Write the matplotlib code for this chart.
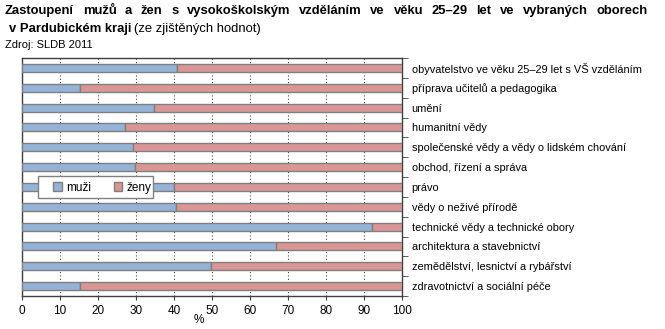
"""
Share of men and women with university education aged 25-29 by field,
Pardubice region (SLDB 2011). Horizontal 100 % stacked bars.
"""
import matplotlib
matplotlib.use("Agg")
import matplotlib.pyplot as plt
from matplotlib.patches import Rectangle
import numpy as np

# categories from top to bottom
categories = [
    "obyvatelstvo ve věku 25–29 let s VŠ vzděláním",
    "příprava učitelů a pedagogika",
    "umění",
    "humanitní vědy",
    "společenské vědy a vědy o lidském chování",
    "obchod, řízení a správa",
    "právo",
    "vědy o neživé přírodě",
    "technické vědy a technické obory",
    "architektura a stavebnictví",
    "zemědělství, lesnictví a rybářství",
    "zdravotnictví a sociální péče",
]
muzi = [40.9, 15.2, 34.7, 27.1, 29.2, 29.7, 40.0, 40.5, 92.0, 66.9, 49.8, 15.3]
zeny = [100 - m for m in muzi]

BLUE = "#95b3d7"
PINK = "#d99694"
EDGE = "#7f7f7f"

plt.rcParams["font.family"] = ["Liberation Sans", "DejaVu Sans"]

fig = plt.figure(figsize=(6.65, 3.29), dpi=100)
ax = fig.add_axes([0.033, 0.1003, 0.5715, 0.7234])

y = np.arange(len(categories))
h = 0.4
ax.barh(y, muzi, height=h, color=BLUE, edgecolor=EDGE, linewidth=1.0, label="muži", zorder=3)
ax.barh(y, zeny, left=muzi, height=h, color=PINK, edgecolor=EDGE, linewidth=1.0, label="ženy", zorder=3)

ax.set_xlim(0, 100)
ax.set_ylim(len(categories) - 0.5, -0.5)
ax.set_xticks(np.arange(0, 101, 10))
ax.tick_params(axis="x", labelsize=8.5, length=3, color="#404040")
ax.xaxis.grid(True, linestyle=(0, (1, 2)), color="#404040", linewidth=0.8, zorder=0)

# category labels on right, ticks at category boundaries
ax.yaxis.tick_right()
ax.set_yticks(y)
ax.set_yticklabels(categories, fontsize=7.9)
ax.tick_params(axis="y", length=0, pad=7)
ax.set_yticks(np.arange(-0.5, len(categories), 1), minor=True)
ax.tick_params(axis="y", which="minor", length=4, color="#404040", right=True, left=False)

for s in ax.spines.values():
    s.set_color("#404040")
    s.set_linewidth(1.0)

ax.text(46.5, -0.075, "%", transform=ax.get_xaxis_transform(), ha="center", va="top", fontsize=8.5)

# legend: white box with gray frame, entries centred inside
ax.add_patch(Rectangle((0.042, 0.412), 0.303, 0.092, transform=ax.transAxes,
                       facecolor="white", edgecolor="#808080", linewidth=1.0, zorder=5))
leg = ax.legend(loc="center", bbox_to_anchor=(0.212, 0.455), ncol=2, fontsize=8.5,
                frameon=False, handlelength=0.7, handleheight=0.7, handletextpad=0.4,
                columnspacing=1.9, borderpad=0, borderaxespad=0)
leg.set_zorder(6)

# title line 1, justified between x0 and x1 pixels
title_words = "Zastoupení mužů a žen s vysokoškolským vzděláním ve věku 25–29 let ve vybraných oborech".split()
W = fig.bbox.width
x0, x1 = 5, 648
fig.canvas.draw()
r = fig.canvas.get_renderer()
objs = [fig.text(0, 0.985, w, fontsize=9.4, fontweight="bold", va="top", ha="left") for w in title_words]
widths = [o.get_window_extent(r).width for o in objs]
gap = (x1 - x0 - sum(widths)) / (len(objs) - 1)
xp = x0
for o, wd in zip(objs, widths):
    o.set_x(xp / W)
    xp += wd + gap

t2 = fig.text(9 / W, 0.93, "v Pardubickém kraji", fontsize=9.4, fontweight="bold", va="top", ha="left")
bb = t2.get_window_extent(r)
fig.text((bb.x1 + 3) / W, 0.93, "(ze zjištěných hodnot)", fontsize=9.4, va="top", ha="left")
fig.text(0.008, 0.878, "Zdroj: SLDB 2011", fontsize=8, va="top", ha="left")

fig.savefig("out.png", dpi=100)
plt.close(fig)
